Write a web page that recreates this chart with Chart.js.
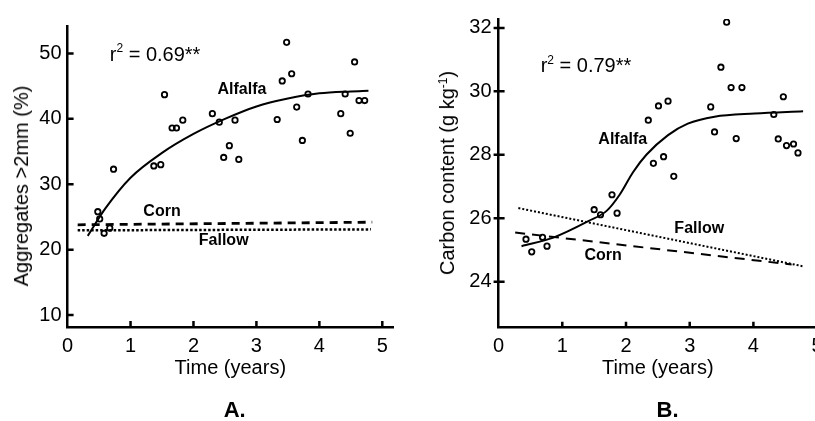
<!DOCTYPE html>
<html>
<head>
<meta charset="utf-8">
<script src="https://cdn.jsdelivr.net/npm/chart.js@4.4.0/dist/chart.umd.min.js"></script>
<style>
    html, body { margin: 0; padding: 0; background: #fff; overflow: hidden; }
    body { width: 815px; height: 421px; position: relative; font-family: "Liberation Sans", Arial, sans-serif; color: #000; }
    canvas { position: absolute; top: 0; }
    #a { left: 0; }
    #b { left: 410px; }
    .ytitle { position: absolute; white-space: nowrap; font-size: 20px; line-height: 1; transform: translate(-50%, -50%) rotate(-90deg); }
    .ytitle sup { font-size: 12px; line-height: 0; vertical-align: 7px; }
    .panel { position: absolute; font-weight: bold; font-size: 22px; line-height: 1; transform: translate(-50%, -50%); }
</style>
</head>
<body>
<canvas id="a" width="410" height="421"></canvas>
<canvas id="b" width="430" height="421"></canvas>
<div class="ytitle" style="left:21.4px; top:185.8px;">Aggregates &gt;2mm (%)</div>
<div class="ytitle" style="left:446.8px; top:173.3px;">Carbon content (g kg<sup>-1</sup>)</div>
<div class="panel" style="left:234.7px; top:409.6px;">A.</div>
<div class="panel" style="left:667.5px; top:409.6px;">B.</div>
<script>
    // panel A - aggregates > 2mm (%)
    const aAlfalfaTime = [0.48, 0.51, 0.58, 0.67, 0.73, 1.37, 1.48, 1.54, 1.66, 1.73, 1.83, 2.30, 2.41, 2.48, 2.57,
        2.66, 2.72, 3.33, 3.41, 3.48, 3.56, 3.64, 3.73, 3.82, 4.34, 4.41, 4.49, 4.56, 4.63, 4.72];
    const aAlfalfaAgg = [25.8, 24.7, 22.5, 23.3, 32.3, 32.8, 33.0, 43.7, 38.6, 38.6, 39.8, 40.8, 39.5, 34.1, 35.9,
        39.8, 33.8, 39.9, 45.8, 51.7, 46.9, 41.8, 36.7, 43.8, 40.8, 43.8, 37.8, 48.7, 42.8, 42.8];
    const aFitTime = [0.32, 0.6, 1.0, 1.5, 2.0, 2.5, 3.0, 3.5, 4.0, 4.5, 4.78];
    const aFitAgg = [22.1, 26.3, 31.0, 34.8, 37.7, 40.0, 41.9, 43.1, 43.9, 44.2, 44.3];
    const aCornTime = [0.16, 4.84];
    const aCornAgg = [23.8, 24.2];
    const aFallowTime = [0.16, 4.82];
    const aFallowAgg = [22.95, 23.1];
    const aYTicks = [10, 20, 30, 40, 50];

    // panel B - carbon content (g/kg)
    const bAlfalfaTime = [0.43, 0.52, 0.69, 0.76, 1.50, 1.60, 1.78, 1.86, 2.35, 2.43, 2.51, 2.59, 2.66, 2.75,
        3.33, 3.39, 3.49, 3.58, 3.65, 3.73, 3.82, 4.32, 4.39, 4.47, 4.52, 4.63, 4.70];
    const bAlfalfaC = [25.34, 24.94, 25.40, 25.12, 26.27, 26.11, 26.74, 26.16, 29.09, 27.73, 29.54, 27.94, 29.69, 27.32,
        29.51, 28.72, 30.76, 32.18, 30.12, 28.51, 30.12, 29.27, 28.50, 29.83, 28.29, 28.34, 28.06];
    const bFitTime = [0.36, 0.86, 1.41, 1.70, 1.90, 2.11, 2.32, 2.66, 2.97, 3.39, 4.02, 4.78];
    const bFitC = [25.12, 25.39, 25.91, 26.24, 26.74, 27.45, 28.0, 28.62, 28.98, 29.20, 29.30, 29.37];
    const bCornTime = [0.26, 4.60];
    const bCornC = [25.55, 24.54];
    const bFallowTime = [0.31, 4.77];
    const bFallowC = [26.32, 24.49];
    const bYTicks = [24, 26, 28, 30, 32];

    const xTicks = [0, 1, 2, 3, 4, 5];

    const FONT = '"Liberation Sans", Arial, Helvetica, sans-serif';

    function pts(xs, ys) {
        return xs.map((x, i) => ({ x: x, y: ys[i] }));
    }

    // short tick marks pointing into the plot
    const tickMarks = {
        id: 'tickMarks',
        afterDraw(chart, args, opts) {
            const ctx = chart.ctx;
            const area = chart.chartArea;
            const xs = chart.scales.x, ys = chart.scales.y;
            ctx.save();
            ctx.strokeStyle = '#000';
            ctx.lineWidth = 2.5;
            ctx.beginPath();
            xs.ticks.forEach(t => {
                const px = xs.getPixelForValue(t.value);
                if (px <= area.left + 1) return;
                ctx.moveTo(px, area.bottom);
                ctx.lineTo(px, area.bottom - opts.len);
            });
            ys.ticks.forEach(t => {
                const py = ys.getPixelForValue(t.value);
                ctx.moveTo(area.left - opts.out, py);
                ctx.lineTo(area.left + opts.len, py);
            });
            ctx.stroke();
            ctx.restore();
        }
    };

    // series names and r squared written inside the plot
    const notes = {
        id: 'notes',
        afterDatasetsDraw(chart, args, opts) {
            const ctx = chart.ctx;
            const xs = chart.scales.x, ys = chart.scales.y;
            ctx.save();
            ctx.fillStyle = '#000';
            ctx.textBaseline = 'middle';
            ctx.textAlign = 'center';
            ctx.font = 'bold 16px ' + FONT;
            opts.labels.forEach(l => {
                ctx.fillText(l.text, xs.getPixelForValue(l.x), ys.getPixelForValue(l.y));
            });
            let px = xs.getPixelForValue(opts.r2.x);
            const py = ys.getPixelForValue(opts.r2.y);
            ctx.textAlign = 'left';
            ctx.font = '20px ' + FONT;
            ctx.fillText('r', px, py);
            px += ctx.measureText('r').width;
            ctx.font = '12px ' + FONT;
            ctx.fillText('2', px, py - 6);
            px += ctx.measureText('2').width;
            ctx.font = '20px ' + FONT;
            ctx.fillText(' = ' + opts.r2.value + '**', px, py);
            ctx.restore();
        }
    };

    function xScale(max, h) {
        return {
            type: 'linear', position: 'bottom', min: 0, max: max,
            grid: { display: false, drawTicks: false },
            border: { display: true, color: '#000', width: 2.5 },
            ticks: { color: '#000', font: { family: FONT, size: 20 }, padding: 7, maxRotation: 0, autoSkip: false },
            afterBuildTicks: s => { s.ticks = xTicks.map(v => ({ value: v })); },
            afterFit: s => { s.height = h; },
            title: { display: true, text: 'Time (years)', color: '#000', font: { family: FONT, size: 20 }, padding: 0 }
        };
    }

    function yScale(min, max, tickList, w, pad) {
        return {
            type: 'linear', position: 'left', min: min, max: max,
            grid: { display: false, drawTicks: false },
            border: { display: true, color: '#000', width: 2.5 },
            ticks: { color: '#000', font: { family: FONT, size: 20 }, padding: pad, autoSkip: false },
            afterBuildTicks: s => { s.ticks = tickList.map(v => ({ value: v })); },
            afterFit: s => { s.width = w; }
        };
    }

    function points(data) {
        return {
            data: data, showLine: false, pointStyle: 'circle', pointRadius: 2.7, pointBorderWidth: 1.8,
            borderColor: '#000', backgroundColor: 'rgba(0,0,0,0)', pointHoverRadius: 2.7
        };
    }

    function line(data, width, dash, smooth) {
        return {
            data: data, showLine: true, pointRadius: 0, borderColor: '#000', borderWidth: width,
            borderDash: dash, borderCapStyle: 'butt', fill: false,
            cubicInterpolationMode: smooth ? 'monotone' : 'default'
        };
    }

    new Chart(document.getElementById('a').getContext('2d'), {
        type: 'scatter',
        data: {
            datasets: [
                points(pts(aAlfalfaTime, aAlfalfaAgg)),
                line(pts(aFitTime, aFitAgg), 2, [], true),
                line(pts(aCornTime, aCornAgg), 2.8, [8, 6], false),
                line(pts(aFallowTime, aFallowAgg), 2.5, [2.5, 2], false)
            ]
        },
        options: {
            responsive: false,
            animation: false,
            devicePixelRatio: 1,
            layout: { padding: { left: 0, top: 26, right: 17, bottom: 40.7 }, autoPadding: false },
            scales: {
                x: xScale(5.17, 53.3),
                y: yScale(8.17, 54.2, aYTicks, 67.6, 6)
            },
            plugins: {
                legend: { display: false },
                tooltip: { enabled: false },
                tickMarks: { len: 6, out: 0 },
                notes: {
                    labels: [
                        { text: 'Alfalfa', x: 2.77, y: 44.4 },
                        { text: 'Corn', x: 1.50, y: 25.8 },
                        { text: 'Fallow', x: 2.48, y: 21.4 }
                    ],
                    r2: { x: 0.67, y: 49.75, value: '0.69' }
                }
            }
        },
        plugins: [tickMarks, notes]
    });

    new Chart(document.getElementById('b').getContext('2d'), {
        type: 'scatter',
        data: {
            datasets: [
                points(pts(bAlfalfaTime, bAlfalfaC)),
                line(pts(bFitTime, bFitC), 2, [], true),
                line(pts(bCornTime, bCornC), 2, [10, 7], false),
                line(pts(bFallowTime, bFallowC), 2, [2, 2], false)
            ]
        },
        options: {
            responsive: false,
            animation: false,
            devicePixelRatio: 1,
            layout: { padding: { left: 0, top: 8.3, right: 22.9, bottom: 41 }, autoPadding: false },
            scales: {
                x: xScale(5, 52.3),
                y: yScale(22.55, 32.28, bYTicks, 88.6, 7)
            },
            plugins: {
                legend: { display: false },
                tooltip: { enabled: false },
                tickMarks: { len: 6, out: 5 },
                notes: {
                    labels: [
                        { text: 'Alfalfa', x: 1.95, y: 28.47 },
                        { text: 'Fallow', x: 3.15, y: 25.66 },
                        { text: 'Corn', x: 1.64, y: 24.83 }
                    ],
                    r2: { x: 0.66, y: 30.79, value: '0.79' }
                }
            }
        },
        plugins: [tickMarks, notes]
    });
</script>
</body>
</html>
